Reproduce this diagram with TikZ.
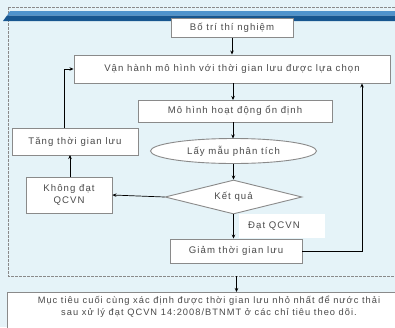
\documentclass[tikz,border=0pt]{standalone}
\usepackage{fontspec}
\setmainfont[LetterSpace=11]{Liberation Sans}
\usetikzlibrary{shapes.geometric,arrows.meta,calc}
\definecolor{bg}{HTML}{E5F3F8}
\definecolor{bdr}{HTML}{8A8A8A}
\definecolor{txt}{HTML}{4A4A4A}
\definecolor{bandD}{HTML}{17568F}
\definecolor{bandL}{HTML}{4F93CC}
\tikzset{
  lbl/.style={text=txt, font=\fontsize{9.6}{11}\selectfont},
  box/.style={draw=bdr, line width=0.9pt, fill=white, lbl, inner sep=0pt, align=center},
  arr/.style={-{Stealth[length=4pt,width=3.5pt]}, line width=0.7pt, black},
  lnk/.style={line width=0.9pt, black}
}
\begin{document}
\begin{tikzpicture}[x=1pt,y=-1pt]
\useasboundingbox (0,0) rectangle (395,327);
\fill[bg] (0,0) rectangle (395,327);
% dashed frame
\draw[bdr, line width=0.7pt, dash pattern=on 2.5pt off 1.5pt] (8,7) -- (400,7);
\draw[bdr, line width=0.7pt, dash pattern=on 2.5pt off 1.5pt] (8,7) -- (8,276) -- (400,276);
% banner
\fill[bandL] (10,11) -- (395,11) -- (395,15.5) -- (7,15.5) -- cycle;
\fill[bandD] (7,15.5) -- (395,15.5) -- (395,21) -- (3,21) -- cycle;
% nodes
\node[box, minimum width=122pt, minimum height=19pt] (bo) at (232,28) {Bố trí thí nghiệm};
\node[box, minimum width=316pt, minimum height=28pt] (vh) at (232,69) {Vận hành mô hình với thời gian lưu được lựa chọn};
\node[box, minimum width=194pt, minimum height=22pt] (mh) at (235,111) {Mô hình hoạt động ổn định};
\node[box, ellipse, minimum width=166pt, minimum height=25pt] (lm) at (233.5,151) {Lấy mẫu phân tích};
\node[box, diamond, aspect=4, minimum width=137pt, minimum height=34pt] (kq) at (233.5,197) {};
\node[lbl] at (kq.center) {Kết quả};
\node[box, minimum width=86pt, minimum height=36pt] (kd) at (69,195) {Không đạt\\[1pt]QCVN};
\node[box, minimum width=126pt, minimum height=27pt] (tg) at (75,141.5) {Tăng thời gian lưu};
\node[box, minimum width=132pt, minimum height=24pt] (gi) at (236,251) {Giảm thời gian lưu};
\fill[white] (239,214) rectangle (325,238);
\node[lbl] (dq) at (274,226) {Đạt QCVN};
\node[box, minimum width=400pt, minimum height=50pt, anchor=north west] (mt) at (7,292) {};
\node[lbl, font=\fontsize{9.3}{11.5}\selectfont, align=center, anchor=north] (mtt) at (209,292.5) {Mục tiêu cuối cùng xác định được thời gian lưu nhỏ nhất để nước thải\\sau xử lý đạt QCVN 14:2008/BTNMT ở các chỉ tiêu theo dõi.};
\coordinate (rc) at (362,0);
\coordinate (lc) at (64,0);
\coordinate (db) at (236.5,276);
% connectors
\draw[arr] (bo.south) -- (bo.south |- vh.north);
\draw[arr] (233,83) -- (233,100);
\draw[arr] (233,122) -- (233,138.5);
\draw[arr] (lm.south) -- (kq.north);
\draw[arr] (kq.south) -- (kq.south |- gi.north);
\draw[arr] (kq.west) -- (kd.east);
\draw[arr] (70,177) -- (70,155);
\draw[arr] (lc |- tg.north) |- (vh.west);
\draw[lnk,-{Stealth[length=4pt,width=3.5pt]}] (gi.east) -| (rc |- vh.south);
\draw[arr] (db) -- (db |- mt.north);
\end{tikzpicture}
\end{document}
